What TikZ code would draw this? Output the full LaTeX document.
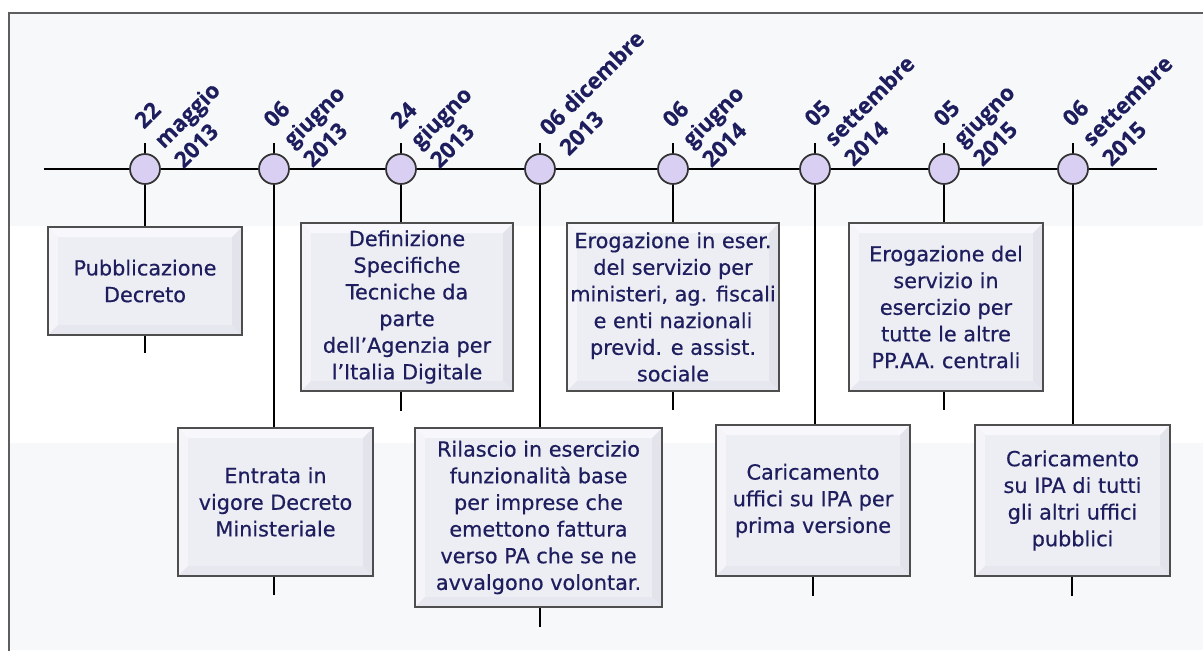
\documentclass[tikz,border=0pt]{standalone}
\usepackage{fontspec}
\usetikzlibrary{calc}
\setmainfont{DejaVu Sans}
\newfontfamily\boxfont[FakeBold=0.5]{DejaVu Sans}
\newfontfamily\datefont[BoldFeatures={FakeBold=0.3}]{Open Sans}
\definecolor{navy}{HTML}{1E1E5E}
\definecolor{band}{HTML}{F7F8FA}
\definecolor{framegray}{HTML}{5E5E5E}
\definecolor{circfill}{HTML}{D9CFF2}
\definecolor{circedge}{HTML}{333333}
\definecolor{boxedge}{HTML}{4E4E4E}
\definecolor{face}{HTML}{EDEDF4}
\definecolor{bevlight}{HTML}{F8F8FC}
\definecolor{bevleft}{HTML}{F4F4F9}
\definecolor{bevright}{HTML}{E3E3EB}
\definecolor{bevbot}{HTML}{E7E7EF}
\tikzset{
  circ/.style={circle, minimum size=22.5pt, inner sep=0pt, fill=circfill, draw=circedge, line width=1.3pt},
  conn/.style={draw=black, line width=1.1pt},
  evbox/.style={draw=boxedge, line width=1.2pt, inner sep=0pt, align=center, text=navy,
    font=\boxfont\fontsize{15.6}{20}\selectfont},
  datelab/.style={text=navy, align=left, rotate=45, anchor=west, inner sep=0pt,
    font=\datefont\bfseries\fontsize{16.8}{21}\selectfont}
}
% name, x1, y1, x2, y2, text
\newcommand{\bevbox}[6]{%
  \fill[face] (#2,#3) rectangle (#4,#5);
  \fill[bevlight] (#2,#3) -- (#4,#3) -- ({#4-10},{#3+10}) -- ({#2+10},{#3+10}) -- cycle;
  \fill[bevleft] (#2,#3) -- ({#2+10},{#3+10}) -- ({#2+10},{#5-10}) -- (#2,#5) -- cycle;
  \fill[bevright] (#4,#3) -- ({#4-10},{#3+10}) -- ({#4-10},{#5-10}) -- (#4,#5) -- cycle;
  \fill[bevbot] (#2,#5) -- ({#2+10},{#5-10}) -- ({#4-10},{#5-10}) -- (#4,#5) -- cycle;
  \node[evbox, minimum width={(#4-#2)*0.75}, minimum height={(#5-#3)*0.75}]
    (#1) at ({(#2+#4)/2},{(#3+#5)/2}) {#6};
}
\begin{document}
\begin{tikzpicture}[x=0.75pt,y=-0.75pt]
\useasboundingbox (0,0) rectangle (1203,650);
\fill[white] (0,0) rectangle (1203,650);
\fill[band] (9,13) rectangle (1203,226);
\fill[band] (9,443) rectangle (1203,650);
\draw[framegray, line width=1.5pt] (9,651) -- (9,13) -- (1204,13);

% timeline
\coordinate (ts) at (44,169);
\coordinate (te) at (1157,169);
\draw[conn] (ts) -- (te);

% circles
\node[circ] (c1) at (145,169) {};
\node[circ] (c2) at (274,169) {};
\node[circ] (c3) at (401,169) {};
\node[circ] (c4) at (540,169) {};
\node[circ] (c5) at (673,169) {};
\node[circ] (c6) at (815,169) {};
\node[circ] (c7) at (944,169) {};
\node[circ] (c8) at (1073,169) {};

% ticks above
\foreach \i in {1,...,8} {
  \coordinate (t\i) at ($(c\i.center)+(0,-26)$);
}

% boxes
\bevbox{b1}{48}{227}{242}{335}{Pubblicazione\\Decreto}
\bevbox{b2}{178}{428}{373}{576}{Entrata in\\vigore Decreto\\Ministeriale}
\bevbox{b3}{301}{223}{513}{391}{Definizione\\Specifiche\\Tecniche da\\parte\\dell’Agenzia per\\l’Italia Digitale}
\bevbox{b4}{415}{428}{662}{607}{Rilascio in esercizio\\funzionalità base\\per imprese che\\emettono fattura\\verso PA che se ne\\avvalgono volontar.}
\bevbox{b5}{567}{223}{779}{391}{Erogazione in eser.\\del servizio per\\ministeri, ag. fiscali\\e enti nazionali\\previd. e assist.\\sociale}
\bevbox{b6}{716}{425}{910}{576}{Caricamento\\uffici su IPA per\\prima versione}
\bevbox{b7}{849}{223}{1043}{391}{Erogazione del\\servizio in\\esercizio per\\tutte le altre\\PP.AA. centrali}
\bevbox{b8}{975}{425}{1170}{576}{Caricamento\\su IPA di tutti\\gli altri uffici\\pubblici}

% end points below boxes
\coordinate (e1) at (145,353);
\coordinate (e2) at (274,595);
\coordinate (e3) at (401,411);
\coordinate (e4) at (540,627);
\coordinate (e5) at (673,410);
\coordinate (e6) at (813,596);
\coordinate (e7) at (944,410);
\coordinate (e8) at (1072,596);

\foreach \i in {1,...,8} {
  \draw[conn] (t\i) -- (c\i.north);
  \draw[conn] (c\i.south) -- (c\i.south |- b\i.north);
  \draw[conn] (e\i |- b\i.south) -- (e\i);
}

% date labels
\node[datelab] (d1) at (158,144) {22\\maggio\\2013};
\node[datelab] (d2) at (287,143) {06\\giugno\\2013};
\node[datelab] (d3) at (414,144) {24\\giugno\\2013};
\node[datelab] (d4) at (553,141) {06 dicembre\\2013};
\node[datelab] (d5) at (686,143) {06\\giugno\\2014};
\node[datelab] (d6) at (828,142) {05\\settembre\\2014};
\node[datelab] (d7) at (957,142) {05\\giugno\\2015};
\node[datelab] (d8) at (1086,142) {06\\settembre\\2015};
\end{tikzpicture}
\end{document}
